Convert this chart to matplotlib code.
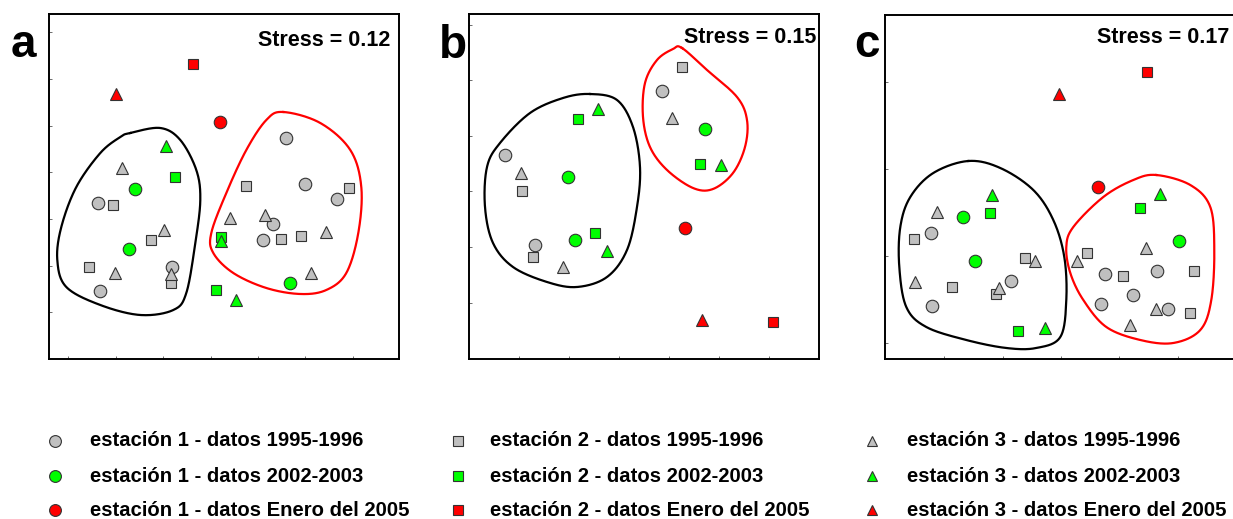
import matplotlib
matplotlib.use('Agg')
import matplotlib.pyplot as plt
import numpy as np

plt.rcParams['font.family'] = ['Liberation Sans', 'DejaVu Sans']

# NMDS coordinates (arbitrary units)
# panel a
a_e1_old_x = [49, 51, 123, 237, 256, 288, 224, 214]
a_e1_old_y = [156, 68, 92, 221, 175, 160, 135, 119]
a_e2_old_x = [64, 102, 40, 122, 197, 300, 232, 252]
a_e2_old_y = [154, 119, 92, 76, 173, 171, 120, 123]
a_e3_old_x = [73, 115, 66, 122, 181, 216, 277, 262]
a_e3_old_y = [191, 129, 86, 85, 141, 144, 127, 86]
a_e1_new_x = [86, 80, 241]
a_e1_new_y = [170, 110, 76]
a_e2_new_x = [126, 172, 167]
a_e2_new_y = [182, 122, 69]
a_e3_new_x = [117, 172, 187]
a_e3_new_y = [213, 118, 59]
a_e1_05 = (171, 237)
a_e2_05 = (144, 295)
a_e3_05 = (67, 265)
a_hull_k_x = [81, 111, 131, 147, 151, 146, 137, 124, 91, 51, 17, 8, 12, 27, 51, 71]
a_hull_k_y = [226, 231, 219, 189, 159, 116, 66, 49, 44, 54, 72, 99, 132, 172, 206, 222]
a_hull_r_x = [234, 271, 301, 312, 309, 297, 277, 251, 217, 184, 164, 162, 177, 197, 217]
a_hull_r_y = [247, 236, 209, 172, 126, 86, 69, 65, 71, 86, 106, 126, 166, 209, 239]

# panel b
b_e1_old_x = [36, 66, 193]
b_e1_old_y = [204, 114, 268]
b_e2_old_x = [53, 64, 213]
b_e2_old_y = [168, 102, 292]
b_e3_old_x = [52, 94, 203]
b_e3_old_y = [186, 92, 241]
b_e1_new_x = [99, 106, 236]
b_e1_new_y = [182, 119, 230]
b_e2_new_x = [109, 126, 231]
b_e2_new_y = [240, 126, 195]
b_e3_new_x = [129, 138, 252]
b_e3_new_y = [250, 108, 194]
b_e1_05 = (216, 131)
b_e2_05 = (304, 37)
b_e3_05 = (233, 39)
b_hull_k_x = [121, 148, 164, 171, 168, 158, 138, 108, 78, 44, 24, 16, 18, 31, 61, 94]
b_hull_k_y = [265, 259, 232, 192, 152, 109, 82, 72, 77, 92, 116, 152, 192, 216, 246, 261]
b_hull_r_x = [213, 238, 268, 278, 276, 264, 244, 224, 198, 181, 174, 176, 188, 204]
b_hull_r_y = [311, 289, 262, 239, 212, 186, 170, 171, 189, 212, 242, 276, 299, 310]

# panel c
c_e1_old_x = [46, 47, 126, 220, 248, 272, 216, 283]
c_e1_old_y = [126, 53, 78, 85, 64, 88, 55, 50]
c_e2_old_x = [29, 67, 111, 140, 202, 238, 309, 305]
c_e2_old_y = [120, 72, 65, 101, 106, 83, 88, 46]
c_e3_old_x = [52, 30, 114, 150, 192, 261, 271, 245]
c_e3_old_y = [147, 77, 71, 98, 98, 111, 50, 34]
c_e1_new_x = [78, 90, 294]
c_e1_new_y = [142, 98, 118]
c_e2_new_x = [105, 133, 255]
c_e2_new_y = [146, 28, 151]
c_e3_new_x = [107, 160, 275]
c_e3_new_y = [164, 31, 165]
c_e1_05 = (213, 172)
c_e2_05 = (262, 287)
c_e3_05 = (174, 265)
c_hull_k_x = [83, 115, 148, 168, 179, 181, 175, 151, 121, 81, 41, 21, 14, 15, 25, 48]
c_hull_k_y = [198, 191, 169, 139, 102, 59, 22, 11, 11, 19, 32, 52, 92, 132, 162, 186]
c_hull_r_x = [271, 305, 325, 329, 326, 315, 288, 255, 221, 198, 185, 181, 188, 218, 248]
c_hull_r_y = [184, 174, 152, 109, 59, 29, 16, 19, 32, 59, 86, 112, 132, 162, 179]

stress = ['Stress = 0.12', 'Stress = 0.15', 'Stress = 0.17']
letters = ['a', 'b', 'c']
legend_labels = ['estación 1 - datos 1995-1996', 'estación 1 - datos 2002-2003',
                 'estación 1 - datos Enero del 2005',
                 'estación 2 - datos 1995-1996', 'estación 2 - datos 2002-2003',
                 'estación 2 - datos Enero del 2005',
                 'estación 3 - datos 1995-1996', 'estación 3 - datos 2002-2003',
                 'estación 3 - datos Enero del 2005']

GREY = '#c0c0c0'
GREEN = '#00ff00'
RED = '#ff0000'
EDGE = '#333333'
MK = {'o': 9.0, 's': 7.6, '^': 9.0}

W, H = 1233, 519


def closed_curve(x, y, n=40):
    # periodic Catmull-Rom through the outline points
    p = np.column_stack([x, y]).astype(float)
    m = len(p)
    out = []
    for i in range(m):
        p0, p1, p2, p3 = p[i - 1], p[i], p[(i + 1) % m], p[(i + 2) % m]
        t = np.linspace(0, 1, n, endpoint=False)[:, None]
        out.append(0.5 * ((2 * p1) + (-p0 + p2) * t + (2 * p0 - 5 * p1 + 4 * p2 - p3) * t ** 2
                          + (-p0 + 3 * p1 - 3 * p2 + p3) * t ** 3))
    out = np.vstack(out + [out[0][:1]])
    return out[:, 0], out[:, 1]


def pts(ax, x, y, marker, color):
    ax.plot(x, y, linestyle='none', marker=marker, ms=MK[marker], mfc=color,
            mec=EDGE, mew=0.8, zorder=3)


fig = plt.figure(figsize=(W / 100, H / 100), dpi=100)

boxes = [(49.3, 14, 350, 345), (469, 14, 350, 345), (885.3, 15, 350, 344)]
xticks = [np.arange(19, 350, 47.4), np.arange(50.3, 350, 50), np.arange(59, 350, 58.3)]
yticks = [np.arange(46.7, 345, 46.7), np.arange(0.8, 345, 55.6)[1:], np.arange(16.3, 344, 86.8)]
stress_pos = [(341, 313), (347.7, 315.7), (343.7, 315.7)]
letter_pos = [(10.5, 57), (438.5, 57.5), (854, 57)]

panels = [
    (a_e1_old_x, a_e1_old_y, a_e2_old_x, a_e2_old_y, a_e3_old_x, a_e3_old_y,
     a_e1_new_x, a_e1_new_y, a_e2_new_x, a_e2_new_y, a_e3_new_x, a_e3_new_y,
     a_e1_05, a_e2_05, a_e3_05, a_hull_k_x, a_hull_k_y, a_hull_r_x, a_hull_r_y),
    (b_e1_old_x, b_e1_old_y, b_e2_old_x, b_e2_old_y, b_e3_old_x, b_e3_old_y,
     b_e1_new_x, b_e1_new_y, b_e2_new_x, b_e2_new_y, b_e3_new_x, b_e3_new_y,
     b_e1_05, b_e2_05, b_e3_05, b_hull_k_x, b_hull_k_y, b_hull_r_x, b_hull_r_y),
    (c_e1_old_x, c_e1_old_y, c_e2_old_x, c_e2_old_y, c_e3_old_x, c_e3_old_y,
     c_e1_new_x, c_e1_new_y, c_e2_new_x, c_e2_new_y, c_e3_new_x, c_e3_new_y,
     c_e1_05, c_e2_05, c_e3_05, c_hull_k_x, c_hull_k_y, c_hull_r_x, c_hull_r_y),
]

for i, d in enumerate(panels):
    l, t, w, h = boxes[i]
    ax = fig.add_axes([l / W, (H - t - h) / H, w / W, h / H])
    ax.set_xlim(0, w)
    ax.set_ylim(0, h)
    ax.set_xticks(xticks[i])
    ax.set_yticks(yticks[i])
    ax.tick_params(direction='in', length=2.5, width=0.6, color='#555555',
                   labelbottom=False, labelleft=False)
    for s in ax.spines.values():
        s.set_linewidth(1.4)

    hx, hy = closed_curve(d[15], d[16])
    ax.plot(hx, hy, color='black', lw=1.6, zorder=1)
    hx, hy = closed_curve(d[17], d[18])
    ax.plot(hx, hy, color='red', lw=1.6, zorder=1)

    pts(ax, d[0], d[1], 'o', GREY)
    pts(ax, d[2], d[3], 's', GREY)
    pts(ax, d[4], d[5], '^', GREY)
    pts(ax, d[6], d[7], 'o', GREEN)
    pts(ax, d[8], d[9], 's', GREEN)
    pts(ax, d[10], d[11], '^', GREEN)
    pts(ax, [d[12][0]], [d[12][1]], 'o', RED)
    pts(ax, [d[13][0]], [d[13][1]], 's', RED)
    pts(ax, [d[14][0]], [d[14][1]], '^', RED)

    ax.text(stress_pos[i][0], stress_pos[i][1], stress[i], ha='right', va='baseline',
            fontsize=15.5, fontweight='bold')
    fig.text(letter_pos[i][0] / W, 1 - letter_pos[i][1] / H, letters[i],
             fontsize=33, fontweight='bold', ha='left', va='baseline')

# legend, three columns of three rows
lax = fig.add_axes([0, 0, 1, 1], zorder=-1)
lax.set_xlim(0, W)
lax.set_ylim(H, 0)
lax.axis('off')
col_marker = [55, 458, 872]
col_text = [90, 490, 907]
rows = [441, 476, 510]
markers = ['o', 's', '^']
leg_ms = {'o': 8.5, 's': 6.6, '^': 7.8}
colors = [GREY, GREEN, RED]
k = 0
for c in range(3):
    for r in range(3):
        lax.plot([col_marker[c]], [rows[r]], linestyle='none', marker=markers[c],
                 ms=leg_ms[markers[c]], mfc=colors[r], mec=EDGE, mew=0.8)
        lax.text(col_text[c], rows[r], legend_labels[k], fontsize=14.6,
                 fontweight='bold', ha='left', va='center')
        k += 1

fig.savefig('out.png', dpi=100)
